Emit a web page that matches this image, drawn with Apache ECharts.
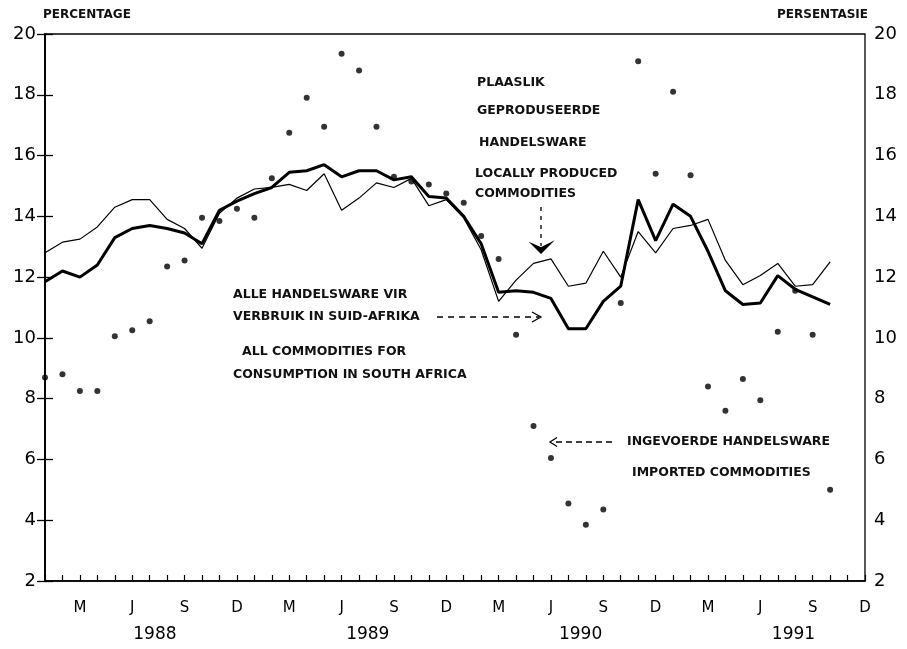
<!DOCTYPE html>
<html>
<head>
<meta charset="utf-8">
<script src="https://cdn.jsdelivr.net/npm/echarts@6/dist/echarts.min.js"></script>
<style>
html,body{margin:0;padding:0;background:#fff;}
#chart{width:907px;height:649px;}
</style>
</head>
<body>
<div id="chart"></div>
<script>
// Months: index 0 = Jan 1988 ... 47 = Dec 1991
const monthTickLabels = ['M', 'J', 'S', 'D'];
const yearLabels = ['1988', '1989', '1990', '1991'];

// All commodities for consumption in South Africa (thick line)
const allCommodities = [
  11.85, 12.2, 12.0, 12.4, 13.3, 13.6, 13.7, 13.6, 13.45, 13.1,
  14.2, 14.5, 14.75, 14.95, 15.45, 15.5, 15.7, 15.3, 15.5, 15.5,
  15.2, 15.3, 14.65, 14.6, 14.0, 13.1, 11.5, 11.55, 11.5, 11.3,
  10.3, 10.3, 11.2, 11.7, 14.55, 13.2, 14.4, 14.0, 12.85, 11.55,
  11.1, 11.15, 12.05, 11.6, 11.35, 11.1
];
// Locally produced commodities (thin line)
const localCommodities = [
  12.8, 13.15, 13.25, 13.65, 14.3, 14.55, 14.55, 13.9, 13.6, 12.95,
  14.1, 14.6, 14.9, 14.95, 15.05, 14.85, 15.4, 14.2, 14.6, 15.1,
  14.95, 15.25, 14.35, 14.55, 13.95, 12.9, 11.2, 11.9, 12.45, 12.6,
  11.7, 11.8, 12.85, 12.0, 13.5, 12.8, 13.6, 13.7, 13.9, 12.55,
  11.75, 12.05, 12.45, 11.7, 11.75, 12.5
];
// Imported commodities (dots)
const importedCommodities = [
  8.7, 8.8, 8.25, 8.25, 10.05, 10.25, 10.55, 12.35, 12.55, 13.95,
  13.85, 14.25, 13.95, 15.25, 16.75, 17.9, 16.95, 19.35, 18.8, 16.95,
  15.3, 15.15, 15.05, 14.75, 14.45, 13.35, 12.6, 10.1, 7.1, 6.05,
  4.55, 3.85, 4.35, 11.15, 19.1, 15.4, 18.1, 15.35, 8.4, 7.6,
  8.65, 7.95, 10.2, 11.55, 10.1, 5.0
];

function pairs(arr) { return arr.map((v, i) => [i, v]); }

const monthLabelValues = [];
for (let m = 2; m <= 47; m += 3) monthLabelValues.push(m);
const yearLabelValues = [6.3, 18.5, 30.7, 42.9];

const FONT = '"DejaVu Sans", sans-serif';
const ink = '#000';

function txt(text, x, y, size, align, weight) {
  const f = (weight || 'bold') + ' ' + (size || 12.5) + 'px ' + FONT;
  return {
    type: 'text', silent: true,
    style: {
      text: text, x: x, y: y, fill: '#111',
      font: f,
      align: align || 'left', verticalAlign: 'middle',
      textAlign: align || 'left', textVerticalAlign: 'middle'
    }
  };
}
function seg(pts, dash, w) {
  return {
    type: 'polyline', silent: true,
    shape: { points: pts },
    style: { stroke: ink, lineWidth: w || 1.3, fill: null, lineDash: dash || null }
  };
}

const chart = echarts.init(document.getElementById('chart'), null, { renderer: 'canvas' });
const yAxisCommon = {
  type: 'value', min: 2, max: 20, interval: 2,
  axisLine: { show: true, lineStyle: { color: ink, width: 1.5 } },
  axisTick: { show: true, inside: true, length: 8, lineStyle: { color: ink, width: 1.3 } },
  splitLine: { show: false },
  axisLabel: { color: '#000', fontSize: 18, fontFamily: FONT, margin: 9 }
};

chart.setOption({
  animation: false,
  backgroundColor: '#fff',
  grid: { left: 45, right: 42, top: 34, bottom: 68, show: true, borderColor: ink, borderWidth: 1.3 },
  xAxis: [
    {
      type: 'value', min: 0, max: 47, interval: 1,
      axisLine: { show: true, lineStyle: { color: ink, width: 1.5 } },
      axisTick: { show: true, inside: true, length: 6, lineStyle: { color: ink, width: 1.2 } },
      splitLine: { show: false },
      axisLabel: {
        customValues: monthLabelValues,
        color: '#000', fontSize: 15, fontFamily: FONT, margin: 20,
        formatter: function (v) { return monthTickLabels[Math.round((v - 2) / 3) % 4]; }
      }
    },
    {
      type: 'value', min: 0, max: 47, position: 'bottom',
      axisLine: { show: false }, axisTick: { show: false }, splitLine: { show: false },
      axisLabel: {
        customValues: yearLabelValues,
        color: '#000', fontSize: 17, fontFamily: FONT, margin: 45,
        formatter: function (v) {
          let best = 0;
          yearLabelValues.forEach((p, i) => { if (Math.abs(p - v) < Math.abs(yearLabelValues[best] - v)) best = i; });
          return yearLabels[best];
        }
      }
    }
  ],
  yAxis: [
    Object.assign({}, yAxisCommon, { position: 'left' }),
    Object.assign({}, yAxisCommon, { position: 'right' })
  ],
  series: [
    {
      name: 'Locally produced', type: 'line', data: pairs(localCommodities),
      showSymbol: false, lineStyle: { color: ink, width: 1.2 }, z: 3
    },
    {
      name: 'All commodities', type: 'line', data: pairs(allCommodities),
      showSymbol: false, lineStyle: { color: ink, width: 3 }, z: 4
    },
    {
      name: 'Imported', type: 'scatter', data: pairs(importedCommodities),
      symbol: 'circle', symbolSize: 6, itemStyle: { color: ink }, z: 5
    }
  ],
  graphic: [
    txt('PERCENTAGE', 43, 15, 12),
    txt('PERSENTASIE', 868, 15, 12, 'right'),
    txt('PLAASLIK', 477, 83),
    txt('GEPRODUSEERDE', 477, 111),
    txt('HANDELSWARE', 479, 143),
    txt('LOCALLY PRODUCED', 475, 174),
    txt('COMMODITIES', 475, 194),
    seg([[541, 207], [541, 246]], [4, 5], 1.3),
    { type: 'polygon', silent: true, shape: { points: [[532, 244], [541, 253], [551, 243], [541, 248]] }, style: { fill: ink, stroke: ink, lineWidth: 1.5 } },
    txt('ALLE HANDELSWARE VIR', 233, 295),
    txt('VERBRUIK IN SUID-AFRIKA', 233, 317),
    seg([[437, 317], [539, 317]], [6, 5], 1.3),
    seg([[532, 312], [541, 317], [532, 322]], null, 1.3),
    txt('ALL COMMODITIES FOR', 242, 352),
    txt('CONSUMPTION IN SOUTH AFRICA', 233, 375),
    seg([[557, 437.5], [550, 442], [557, 446.5]], null, 1.3),
    seg([[556, 442], [613, 442]], [6, 4], 1.3),
    txt('INGEVOERDE HANDELSWARE', 627, 442),
    txt('IMPORTED COMMODITIES', 632, 473)
  ]
});
</script>
</body>
</html>
